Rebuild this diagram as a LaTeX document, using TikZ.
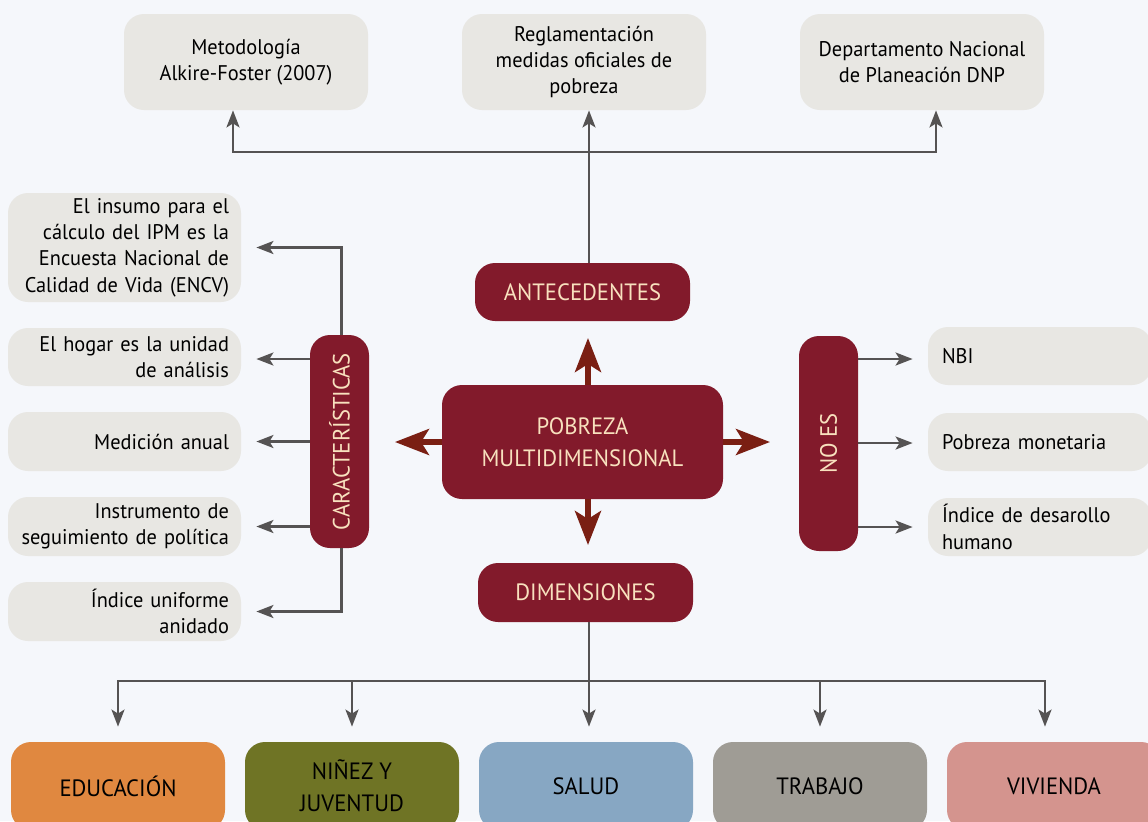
\documentclass[tikz,border=0pt]{standalone}
\usepackage{fontspec}
\setmainfont[FakeStretch=0.96]{PT Sans}
\usetikzlibrary{arrows.meta}
\definecolor{bg}{HTML}{F5F7FB}
\definecolor{boxgray}{HTML}{E8E7E3}
\definecolor{maroon}{HTML}{821A2B}
\definecolor{cream}{HTML}{F8E1BE}
\definecolor{conngray}{HTML}{555353}
\definecolor{arrowred}{HTML}{7A1F13}
\definecolor{cedu}{HTML}{E08840}
\definecolor{cnin}{HTML}{6F7425}
\definecolor{csal}{HTML}{87A7C3}
\definecolor{ctra}{HTML}{9F9C95}
\definecolor{cviv}{HTML}{D4948E}
\newcommand{\fsmall}{\fontsize{10.6}{13.2}\selectfont}
\newcommand{\fbig}{\fontsize{11.8}{16}\selectfont}
\tikzset{
  graybox/.style={fill=boxgray, rounded corners=10pt, inner sep=0pt, font=\fsmall},
  topbox/.style={graybox, minimum width=122pt, minimum height=48pt, align=center},
  lbox/.style={graybox, minimum width=116.5pt, text width=104.5pt, align=right},
  rbox/.style={graybox, minimum width=112pt, minimum height=29pt, text width=98pt, align=left},
  mbox/.style={fill=maroon, text=cream, rounded corners=10pt, inner sep=0pt, font=\fbig, align=center},
  catbox/.style={rounded corners=10pt, inner sep=0pt, text=black, font=\fbig, align=center, minimum width=107pt, minimum height=44pt},
  conn/.style={draw=conngray, line width=1.25pt, -{Stealth[length=8.5pt,width=6.5pt,inset=2pt]}},
  plain/.style={draw=conngray, line width=1.25pt},
  bigarrow/.style={draw=arrowred, line width=2.6pt, -{Stealth[length=17pt,width=13pt,inset=4pt]}}
}
\begin{document}
\begin{tikzpicture}[x=0.5pt,y=-0.5pt]
\useasboundingbox (0,0) rectangle (1148,821);
\clip (0,0) rectangle (1148,821);
\fill[bg] (0,0) rectangle (1148,821);

% top boxes
\node[topbox] (met) at (246,62) {Metodología\\Alkire-Foster (2007)};
\node[topbox] (reg) at (584,62) {Reglamentación\\medidas oficiales de\\pobreza};
\node[topbox] (dnp) at (922,62) {Departamento Nacional\\de Planeación DNP};

% maroon boxes
\node[mbox, minimum width=107.5pt, minimum height=29pt] (ante) at (582.5,292) {ANTECEDENTES};
\node[mbox, minimum width=140.5pt, minimum height=57pt] (pob) at (582.5,442) {POBREZA\\MULTIDIMENSIONAL};
\node[mbox, minimum width=107.5pt, minimum height=29.5pt] (dim) at (585.5,592.5) {DIMENSIONES};
\node[mbox, minimum width=29.5pt, minimum height=106.5pt] (car) at (339.5,441.5) {\rotatebox{90}{CARACTERÍSTICAS}};
\node[mbox, minimum width=29.5pt, minimum height=107.5pt] (noes) at (828.5,443.5) {\rotatebox{90}{NO ES}};

% left boxes
\node[lbox, minimum height=54.5pt] (c1) at (124.5,247.5) {El insumo para el\\cálculo del IPM es la\\Encuesta Nacional de\\Calidad de Vida (ENCV)};
\node[lbox, minimum height=29pt] (c2) at (124.5,357) {El hogar es la unidad\\de análisis};
\node[lbox, minimum height=29.5pt] (c3) at (124.5,441.5) {Medición anual};
\node[lbox, minimum height=29.5pt] (c4) at (124.5,526.5) {Instrumento de\\seguimiento de política};
\node[lbox, minimum height=29.5pt] (c5) at (124.5,611.5) {Índice uniforme\\anidado};

% right boxes
\node[rbox] (n1) at (1040,356) {NBI};
\node[rbox] (n2) at (1040,442) {Pobreza monetaria};
\node[rbox] (n3) at (1040,527) {Índice de desarollo\\humano};

% bottom boxes
\node[catbox, fill=cedu] (edu) at (118,786) {EDUCACIÓN};
\node[catbox, fill=cnin] (nin) at (352,786) {NIÑEZ Y\\JUVENTUD};
\node[catbox, fill=csal] (sal) at (586,786) {SALUD};
\node[catbox, fill=ctra] (tra) at (820,786) {TRABAJO};
\node[catbox, fill=cviv] (viv) at (1054,786) {VIVIENDA};

% big arrows from center
\coordinate (tipU) at (588,338);
\coordinate (tipD) at (588,545);
\coordinate (tipL) at (395,442);
\coordinate (tipR) at (770,442);
\draw[bigarrow] (pob.north -| tipU) -- (tipU);
\draw[bigarrow] (pob.south -| tipD) -- (tipD);
\draw[bigarrow] (pob.west |- tipL) -- (tipL);
\draw[bigarrow] (pob.east |- tipR) -- (tipR);

% top connectors
\coordinate (tb) at (589,152);
\draw[plain] (ante.north -| tb) -- (tb);
\draw[conn] (tb) -| ([xshift=-6.5pt]met.south);
\draw[conn] (tb) -- (reg.south -| tb);
\draw[conn] (tb) -| ([xshift=7pt]dnp.south);

% left connectors
\draw[conn, shorten >=7.5pt] ([xshift=1pt]car.north) |- (c1.east);
\draw[conn, shorten >=7.5pt] (car.west |- 0,359) -- (c2.east |- 0,359);
\draw[conn, shorten >=7.5pt] (car.west |- c3.east) -- (c3.east);
\draw[conn, shorten >=7.5pt] (car.west |- c4.east) -- (c4.east);
\draw[conn, shorten >=7.5pt] ([xshift=1pt]car.south) |- (c5.east);

% right connectors
\draw[conn, shorten >=7.5pt] (noes.east |- 0,359) -- (n1.west |- 0,359);
\draw[conn, shorten >=7.5pt] (noes.east |- 0,443) -- (n2.west |- 0,443);
\draw[conn, shorten >=7.5pt] (noes.east |- n3.west) -- (n3.west);

% bottom connectors
\coordinate (bb) at (589,681);
\draw[plain] (dim.south -| bb) -- (bb);
\draw[conn] (bb) -| ([yshift=7.5pt]edu.north);
\draw[conn] (bb) -| ([yshift=7.5pt]nin.north);
\draw[conn] (bb) -- ([yshift=7.5pt]sal.north -| bb);
\draw[conn] (bb) -| ([yshift=7.5pt]tra.north);
\draw[conn] (bb) -| ([xshift=-4.5pt,yshift=7.5pt]viv.north);
\end{tikzpicture}
\end{document}
